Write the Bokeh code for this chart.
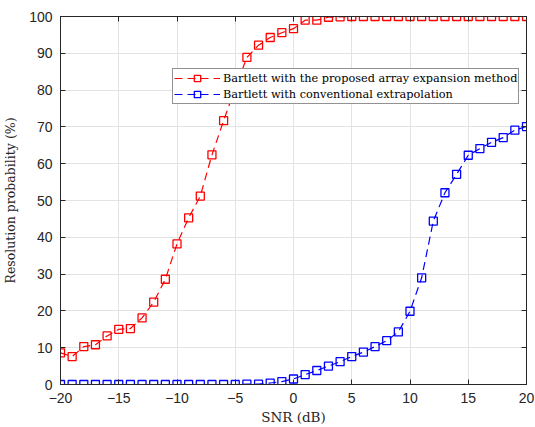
from bokeh.plotting import figure
from bokeh.models import (Range1d, LinearAxis, SingleIntervalTicker, Legend, LegendItem,
                          CustomLabelingPolicy)
from bokeh.embed import file_html
from bokeh.resources import INLINE

snr = list(range(-20, 21))
proposed = [8.6, 7.6, 10.3, 10.8, 13.2, 15.0, 15.2, 18.1, 22.4, 28.6, 38.2, 45.3, 51.2, 62.4, 71.7,
            80.5, 88.9, 92.2, 94.3, 95.6, 96.7, 99.0, 99.0, 99.8, 99.9, 100, 100, 100, 100, 100,
            100, 100, 100, 100, 100, 100, 100, 100, 100, 100, 100]
conventional = [0, 0, 0, 0, 0, 0, 0, 0, 0, 0, 0, 0, 0, 0, 0, 0, 0.1, 0.1, 0.4, 0.8, 1.5,
                2.7, 3.8, 5.0, 6.2, 7.6, 8.8, 10.3, 11.9, 14.3, 19.9, 29.0, 44.4, 52.1, 57.1,
                62.3, 64.1, 65.8, 67.1, 69.1, 70.1]
labels = ["Bartlett with the proposed array expansion method",
          "Bartlett with conventional extrapolation"]
x_label = "SNR (dB)"
y_label = "Resolution probability (%)"

axis_col = "#262626"
serif = "DejaVu Serif"
sans = "Liberation Sans"

p = figure(width=535, height=427, output_backend="svg", toolbar_location=None,
           x_range=Range1d(-20, 20), y_range=Range1d(0, 100),
           min_border_left=59, min_border_right=7, min_border_top=16, min_border_bottom=43)
p.background_fill_color = "white"
p.border_fill_color = "white"
p.outline_line_color = axis_col
p.outline_line_width = 1

for ax, step in ((p.xaxis[0], 5), (p.yaxis[0], 10)):
    ax.ticker = SingleIntervalTicker(interval=step)
    ax.major_tick_in = 5
    ax.major_tick_out = 0
    ax.minor_tick_line_color = None
    ax.axis_line_color = axis_col
    ax.major_tick_line_color = axis_col
    ax.major_label_text_font = sans
    ax.major_label_text_font_size = "14px"
    ax.major_label_text_color = axis_col
    ax.axis_label_text_font = serif
    ax.axis_label_text_font_style = "normal"
    ax.axis_label_text_color = axis_col

p.xaxis.axis_label = x_label
p.yaxis.axis_label = y_label
p.xaxis.axis_label_text_font_size = "13.5px"
p.yaxis.axis_label_text_font_size = "12.5px"
p.xaxis.major_label_standoff = 4
p.yaxis.major_label_standoff = 4
p.xaxis.axis_label_standoff = 3
p.yaxis.axis_label_standoff = 8

for loc, step in (("above", 5), ("right", 10)):
    ax = LinearAxis(ticker=SingleIntervalTicker(interval=step),
                    major_label_policy=CustomLabelingPolicy(code="return []"))
    ax.major_tick_in = 5
    ax.major_tick_out = 0
    ax.minor_tick_line_color = None
    ax.axis_line_color = axis_col
    ax.major_tick_line_color = axis_col
    ax.major_label_text_font_size = "1px"
    ax.major_label_standoff = 0
    p.add_layout(ax, loc)

p.xgrid.ticker = SingleIntervalTicker(interval=5)
p.ygrid.ticker = SingleIntervalTicker(interval=10)
p.grid.grid_line_color = "#e3e3e3"
p.grid.grid_line_width = 1

r1 = p.line(snr, proposed, line_color="#ff0000", line_width=1.2, line_dash="8 5")
m1 = p.scatter(snr, proposed, marker="square", size=8, fill_color=None,
               line_color="#ff0000", line_width=1.3)
r2 = p.line(snr, conventional, line_color="#0000ff", line_width=1.2, line_dash="8 5")
m2 = p.scatter(snr, conventional, marker="square", size=8, fill_color=None,
               line_color="#0000ff", line_width=1.3)

legend = Legend(items=[LegendItem(label=labels[0], renderers=[r1, m1]),
                       LegendItem(label=labels[1], renderers=[r2, m2])],
                location=(112, 280))
legend.label_text_font = serif
legend.label_text_font_size = "11.3px"
legend.label_text_color = "black"
legend.border_line_color = axis_col
legend.border_line_width = 1
legend.background_fill_color = "white"
legend.background_fill_alpha = 1
legend.padding = 1
legend.spacing = 0
legend.margin = 0
legend.label_height = 16
legend.glyph_height = 16
legend.glyph_width = 46
legend.label_standoff = 3
p.add_layout(legend, "center")

open("out.html", "w").write(file_html(p, INLINE))
